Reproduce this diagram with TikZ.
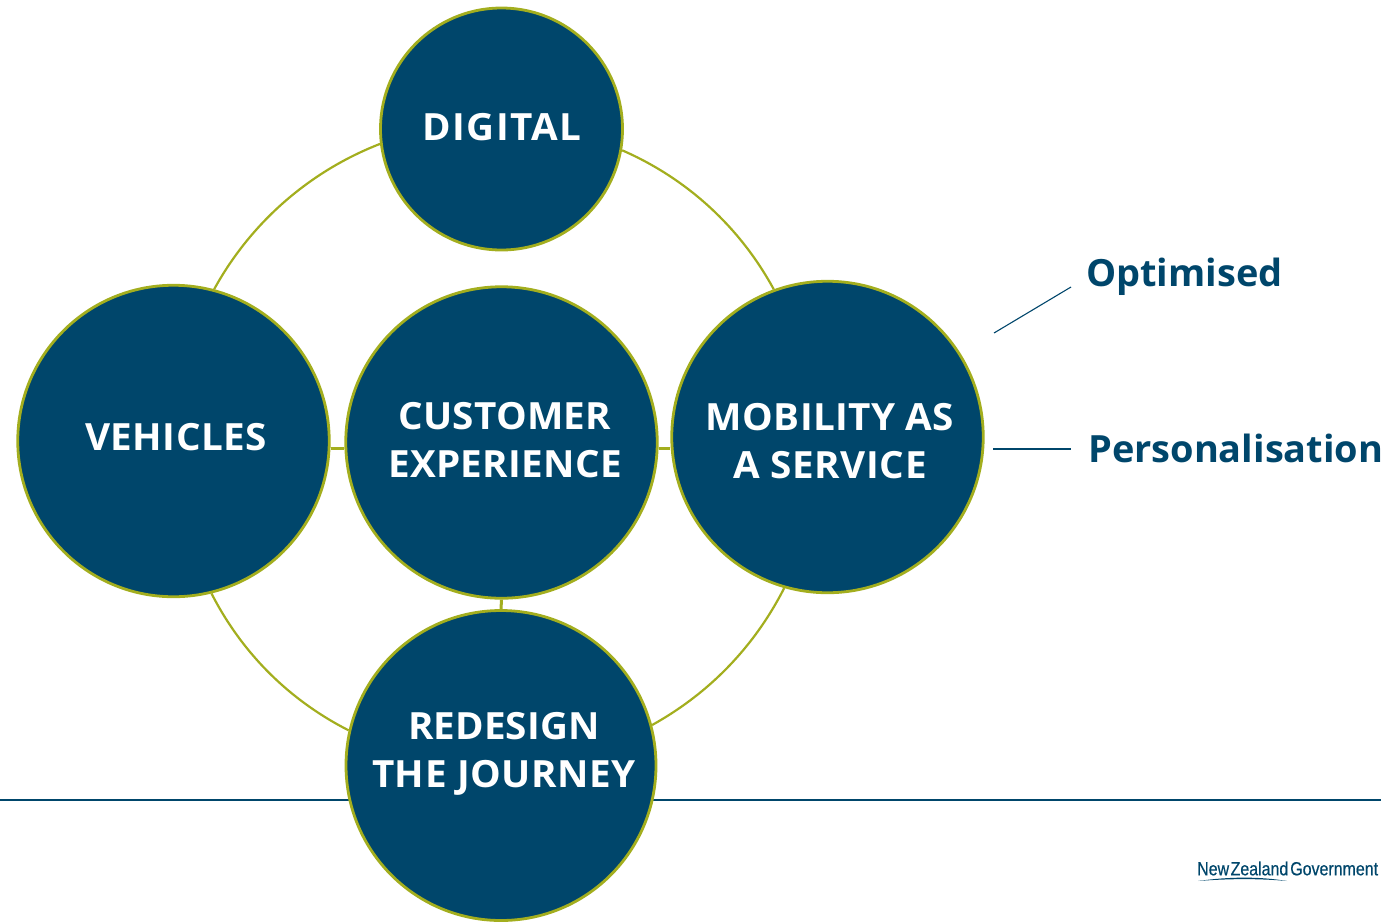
\documentclass[tikz,border=0pt]{standalone}
\usepackage{fontspec}
\setmainfont{Open Sans}
\newfontfamily\hubfont[FakeStretch=1.03]{Open Sans}
\newfontfamily\tagfont[FakeStretch=1.012]{Open Sans}
\newfontfamily\logofont[FakeStretch=0.84,FakeBold=0.5]{Liberation Sans}
\definecolor{navy}{HTML}{00466B}
\definecolor{olive}{HTML}{A3AE1E}
\tikzset{
  hub/.style={circle,draw=olive,fill=navy,line width=2.8pt,inner sep=0pt,minimum size=#1},
  hubtext/.style={text=white,align=center,inner sep=0pt,font=\fontsize{37.5}{48}\hubfont\bfseries},
  ring/.style={draw=olive,line width=2.2pt,looseness=0.88},
  spoke/.style={draw=olive,line width=3pt},
  rule/.style={draw=navy,line width=1.6pt},
  tag/.style={text=navy,font=\fontsize{37.5}{48}\tagfont\bfseries,inner sep=0pt,anchor=west},
}
\begin{document}
\begin{tikzpicture}[x=1pt,y=-1pt]
\useasboundingbox (0,0) rectangle (1398,922);
\coordinate (ruleL) at (0,800);
\coordinate (ruleR) at (1381,800);
\draw[rule] (ruleL) -- (ruleR);
\node[hub=242pt] (dig) at (501.5,129) {};
\node[hub=311.5pt] (veh) at (173.5,441) {};
\node[hub=311.5pt] (cus) at (501.5,442.5) {};
\node[hub=311.5pt] (maas) at (827.5,437) {};
\node[hub=310pt] (red) at (501,765.5) {};
\node[hubtext] (digT) at (502,127) {\addfontfeature{LetterSpace=3.5}DIGITAL};
\node[hubtext] (vehT) at (176,437) {\addfontfeature{LetterSpace=1}VEHICLES};
\node[hubtext] (cusT) at (505,440) {\addfontfeature{LetterSpace=0.6}CUSTOMER\\\addfontfeature{LetterSpace=0.9}EXPERIENCE};
\node[hubtext] (maasT) at (830,441) {\addfontfeature{LetterSpace=1}MOBILITY AS\\\addfontfeature{LetterSpace=1.6}A SERVICE};
\node[hubtext] (redT) at (504,753.5) {\addfontfeature{LetterSpace=0.3}REDESIGN\\\addfontfeature{LetterSpace=1.5}THE JOURNEY};
% ring arcs
\draw[ring] (dig.187.6) to[bend right=20] (veh.75);
\draw[ring] (dig.-10.3) to[bend left=19] (maas.110);
\draw[ring] (veh.-76.6) to[bend right=18] (red.167.3);
\draw[ring] (maas.-106.7) to[bend left=17] (red.15.2);
% spokes
\draw[spoke] (veh.east |- 0,448) -- (cus.west |- 0,448);
\draw[spoke] (cus.east |- 0,448) -- (maas.west |- 0,448);
\draw[spoke] (cus.south) -- (red.north);
% tags
\coordinate (o1) at (994,333);
\coordinate (o2) at (1071,287);
\coordinate (p1) at (993,449);
\coordinate (p2) at (1071,449);
\draw[rule,line width=1.1pt] (o1) -- (o2);
\draw[rule] (p1) -- (p2);
\node[tag] (opt) at (1086,276.5) {Optimised};
\node[tag] (per) at (1088,448) {Personalisation};
% logo
\node[text=navy,font=\fontsize{19}{20}\logofont,inner sep=0pt,anchor=west] (logo) at (1197,868.5) {New\kern1.5pt Zealand\kern2pt Government};
\fill[navy] (1198,881) .. controls (1230,876.5) and (1260,876.5) .. (1287,881) .. controls (1260,878.5) and (1230,878.5) .. cycle;
\end{tikzpicture}
\end{document}
